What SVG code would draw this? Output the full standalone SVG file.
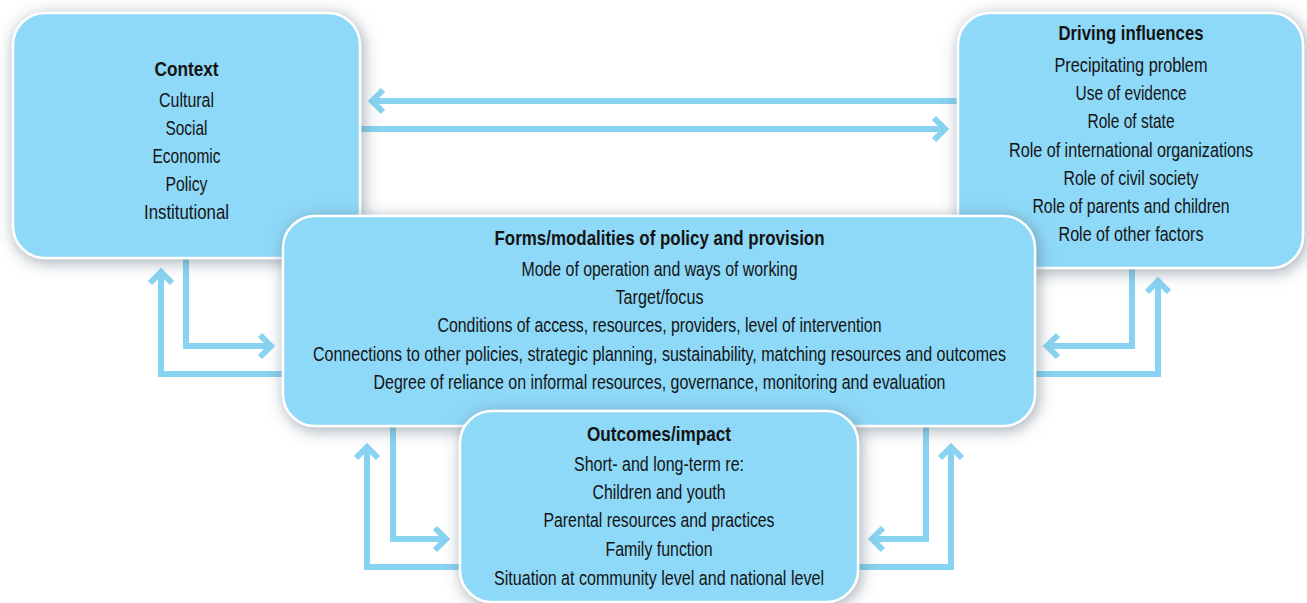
<svg xmlns="http://www.w3.org/2000/svg" width="1307" height="603" viewBox="0 0 1307 603">
<defs>
<filter id="sh" x="-10%" y="-15%" width="120%" height="130%">
<feDropShadow dx="2" dy="3" stdDeviation="8" flood-color="#5f707c" flood-opacity="0.6"/>
</filter>
<marker id="ah" markerUnits="userSpaceOnUse" markerWidth="30" markerHeight="30" refX="15" refY="15" orient="auto" viewBox="0 0 30 30">
<polyline points="4,4 15,15 4,26" fill="none" stroke="#88d3f1" stroke-width="6" stroke-linejoin="miter"/>
</marker>
</defs>
<style>
.box{fill:#8ed8f8;stroke:#ffffff;stroke-width:2.5;filter:url(#sh)}
.conn{fill:none;stroke:#88d3f1;stroke-width:6;stroke-linejoin:miter;marker-end:url(#ah)}
text{font-family:"Liberation Sans",Arial,sans-serif;font-size:20.5px;fill:#141414;text-anchor:middle}
.t{font-weight:bold}
</style>
<rect width="1307" height="603" fill="#ffffff"/>
<g id="connectors">
<path class="conn" d="M957,101 H372"/>
<path class="conn" d="M358,129 H945"/>
<path class="conn" d="M186,256 V346 H271"/>
<path class="conn" d="M285,374 H161 V272"/>
<path class="conn" d="M1132,266 V346 H1047"/>
<path class="conn" d="M1033,374 H1158 V281"/>
<path class="conn" d="M393,424 V539 H446"/>
<path class="conn" d="M462,567 H367 V447"/>
<path class="conn" d="M926,424 V539 H872"/>
<path class="conn" d="M856,567 H951 V447"/>
</g>
<g id="context">
<rect class="box" x="13" y="13" width="347" height="245" rx="32"/>
<text class="t" x="186.5" y="76" textLength="64" lengthAdjust="spacingAndGlyphs">Context</text>
<text x="186.5" y="107" textLength="55" lengthAdjust="spacingAndGlyphs">Cultural</text>
<text x="186.5" y="135" textLength="42" lengthAdjust="spacingAndGlyphs">Social</text>
<text x="186.5" y="163" textLength="68" lengthAdjust="spacingAndGlyphs">Economic</text>
<text x="186.5" y="191" textLength="42" lengthAdjust="spacingAndGlyphs">Policy</text>
<text x="186.5" y="219" textLength="85" lengthAdjust="spacingAndGlyphs">Institutional</text>
</g>
<g id="driving">
<rect class="box" x="958" y="13" width="345" height="255" rx="32"/>
<text class="t" x="1131" y="40" textLength="145" lengthAdjust="spacingAndGlyphs">Driving influences</text>
<text x="1131" y="72" textLength="153" lengthAdjust="spacingAndGlyphs">Precipitating problem</text>
<text x="1131" y="100" textLength="111" lengthAdjust="spacingAndGlyphs">Use of evidence</text>
<text x="1131" y="128" textLength="87" lengthAdjust="spacingAndGlyphs">Role of state</text>
<text x="1131" y="157" textLength="244" lengthAdjust="spacingAndGlyphs">Role of international organizations</text>
<text x="1131" y="185" textLength="135" lengthAdjust="spacingAndGlyphs">Role of civil society</text>
<text x="1131" y="213" textLength="197" lengthAdjust="spacingAndGlyphs">Role of parents and children</text>
<text x="1131" y="241" textLength="145" lengthAdjust="spacingAndGlyphs">Role of other factors</text>
</g>
<g id="forms">
<rect class="box" x="283" y="216" width="752" height="210" rx="32"/>
<text class="t" x="659.5" y="245" textLength="330" lengthAdjust="spacingAndGlyphs">Forms/modalities of policy and provision</text>
<text x="659.5" y="276" textLength="276" lengthAdjust="spacingAndGlyphs">Mode of operation and ways of working</text>
<text x="659.5" y="304" textLength="88" lengthAdjust="spacingAndGlyphs">Target/focus</text>
<text x="659.5" y="332" textLength="444" lengthAdjust="spacingAndGlyphs">Conditions of access, resources, providers, level of intervention</text>
<text x="659.5" y="361" textLength="693" lengthAdjust="spacingAndGlyphs">Connections to other policies, strategic planning, sustainability, matching resources and outcomes</text>
<text x="659.5" y="389" textLength="572" lengthAdjust="spacingAndGlyphs">Degree of reliance on informal resources, governance, monitoring and evaluation</text>
</g>
<g id="outcomes">
<rect class="box" x="460" y="411" width="398" height="191" rx="32"/>
<text class="t" x="659" y="441" textLength="144" lengthAdjust="spacingAndGlyphs">Outcomes/impact</text>
<text x="659" y="471" textLength="170" lengthAdjust="spacingAndGlyphs">Short- and long-term re:</text>
<text x="659" y="499" textLength="133" lengthAdjust="spacingAndGlyphs">Children and youth</text>
<text x="659" y="527" textLength="231" lengthAdjust="spacingAndGlyphs">Parental resources and practices</text>
<text x="659" y="556" textLength="107" lengthAdjust="spacingAndGlyphs">Family function</text>
<text x="659" y="585" textLength="330" lengthAdjust="spacingAndGlyphs">Situation at community level and national level</text>
</g>
</svg>
